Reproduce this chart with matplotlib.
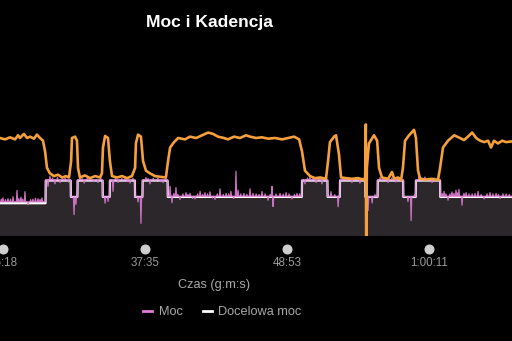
import numpy as np
import matplotlib.pyplot as plt
from matplotlib.lines import Line2D
from matplotlib.transforms import blended_transform_factory

plt.rcParams['font.family'] = ['Liberation Sans', 'DejaVu Sans']

# -------- Data (time in seconds) --------
# target power step function: segment start times and watts
TARGET_START = [1400, 1782, 1902, 1934, 2054, 2088, 2208, 2244, 2364,
                3004, 3126, 3185, 3306, 3365, 3487, 3547, 3663]
TARGET_W = [130, 220, 155, 220, 155, 220, 155, 220, 155,
            220, 155, 220, 155, 220, 155, 220, 155]
# mean actual power per segment
POWER_W = [136, 222, 155, 222, 155, 222, 155, 222, 157,
           222, 156, 222, 156, 222, 156, 222, 157]
# short spikes in actual power (time, deviation in W)
SPIKE_T = [1570, 1578, 1590, 1602, 1614, 1626, 1645, 1654, 1664, 1672, 1683,
           1698, 1710, 1721, 1733, 1745, 1755, 1764,
           1793, 1802, 1814, 1826, 1838, 1850, 1862, 1874, 1890, 1917, 1926,
           1945, 1955, 1965, 1980, 1993, 2010, 2031, 2045,
           2065, 2079, 2103, 2115, 2127, 2145, 2160, 2172, 2184, 2198, 2222,
           2236, 2260, 2270, 2279, 2295, 2317, 2330, 2341, 2355,
           2375, 2384, 2393, 2403, 2412, 2422, 2436, 2451, 2460, 2470, 2482,
           2494, 2506, 2518, 2530, 2541, 2553, 2565, 2577, 2589, 2600, 2613,
           2628, 2642, 2654, 2665, 2678, 2689, 2699, 2712, 2727, 2741, 2756,
           2770, 2785, 2799, 2813, 2828, 2842, 2852, 2861, 2866, 2880, 2899,
           2914, 2928, 2942, 2956, 2968, 2980, 2993,
           3018, 3030, 3042, 3056, 3071, 3085, 3099, 3112, 3142, 3160, 3176,
           3198, 3209, 3225, 3242, 3260, 3280, 3295, 3319, 3338, 3352, 3376,
           3395, 3414, 3432, 3452, 3470, 3509, 3524, 3540,
           3562, 3575, 3590, 3606, 3624, 3636, 3648, 3672, 3681, 3690, 3700,
           3709, 3719, 3728, 3738, 3745, 3752, 3767, 3776, 3786, 3800, 3815,
           3829, 3843, 3858, 3872, 3886, 3900, 3914, 3929, 3940, 3948, 3962,
           3977, 3992]
SPIKE_W = [10, 15, 8, 12, 10, 20, 45, 12, 18, 10, 40,
           -12, 8, 10, 14, 12, 9, 15,
           -25, 15, 8, -15, 10, -10, 6, 8, -8, -70, -30,
           10, 6, -12, 7, 8, -6, -10, 6,
           -25, -18, -45, 8, -10, 6, 8, -6, -12, 7, -20,
           -105, 10, 6, -15, 7, 8, -6, -10, 6,
           40, -25, 12, 35, 8, -12, 10, 15, 8, 12, -8,
           -10, 10, 20, 8, 15, 10, 18, -6, -12, 10, 30,
           8, 12, 10, 20, -8, 100, 25, 10, 12, 8, 30,
           12, 10, 8, 20, 10, -15, 8, 40, -40, 10, 12,
           9, 15, 10, -10, 8, 12, 10,
           -15, 8, 12, 6, -10, 8, -15, 6, 20, 8, -40,
           7, 8, 6, -10, 6, -12, 8, -55, -25, 8, 10,
           6, -10, 8, -8, 6, -20, -95, 8,
           15, 8, 12, 6, -10, 8, 8, 12, 20, 10, -15,
           10, 18, 12, 25, 14, 28, -35, 12, 15, 10, 10,
           12, 20, 8, -10, 10, 15, 10, 12, 8, -8, 10,
           10, 8]

# cadence (rpm)
CAD_T = [1469, 1564, 1588, 1612, 1636, 1650, 1659, 1678, 1693, 1707, 1726,
         1740, 1755, 1769, 1779, 1788, 1802, 1821, 1841, 1860, 1879, 1893,
         1903, 1907, 1922, 1931, 1936, 1945, 1969, 1993, 2017, 2041, 2050,
         2055, 2065, 2079, 2088, 2098, 2122, 2146, 2170, 2193, 2208, 2212,
         2222, 2236, 2246, 2260, 2279, 2303, 2327, 2355, 2365, 2375, 2394,
         2413, 2446, 2470, 2499, 2527, 2556, 2580, 2603, 2632, 2651, 2680,
         2708, 2737, 2756, 2785, 2813, 2842, 2875, 2909, 2937, 2966, 2990,
         3004, 3018, 3042, 3066, 3090, 3118, 3128, 3137, 3157, 3166, 3180,
         3190, 3214, 3242, 3271, 3295, 3305, 3308, 3310, 3313, 3323, 3347,
         3362, 3371, 3385, 3414, 3433, 3443, 3462, 3476, 3485, 3495, 3514,
         3538, 3547, 3557, 3567, 3595, 3624, 3652, 3662, 3676, 3700, 3729,
         3757, 3776, 3795, 3815, 3834, 3853, 3872, 3891, 3905, 3919, 3938,
         3958, 3977, 4005, 4050]
CAD_RPM = [92, 92, 91, 92.5, 91, 94, 92, 95, 92, 93, 91.5,
           94.5, 92, 90, 82, 70, 66, 64, 65, 63, 64, 63,
           75, 92, 93, 90, 70, 63, 64.5, 62.5, 64, 63, 66,
           85, 93.5, 92, 75, 64, 63, 64, 62.5, 64, 70, 88,
           94.5, 93, 75, 68, 66, 64, 63.5, 63, 75, 85, 89,
           92, 91, 93, 92, 94, 96, 95, 93, 92, 91, 93,
           92, 94, 93, 92, 92.5, 91.5, 92, 91, 92, 93, 91,
           82, 68, 64, 62.5, 63, 62, 75, 89, 93, 94, 80,
           63, 62.5, 62, 62.5, 61.5, 62, 102, 5, 70, 88, 94,
           90, 70, 63, 62, 67, 62, 63, 61, 70, 90, 94,
           98, 92, 68, 62, 61.5, 62, 61, 70, 85, 90, 94,
           92, 90.5, 93, 96, 92, 90, 89, 90, 85, 90, 88,
           90, 89, 89.5, 89]

TICK_T = [1578, 2255, 2933, 3611]
TICK_LABELS = ['26:18', '37:35', '48:53', '1:00:11']

# -------- Build power series --------
t = np.arange(1400, 4101, 1.0)
seg = np.searchsorted(TARGET_START, t, side='right') - 1
target = np.array(TARGET_W)[seg]
power = np.array(POWER_W, dtype=float)[seg]
for ts, dw in zip(SPIKE_T, SPIKE_W):
    power += dw * np.clip(1 - np.abs(t - ts) / 3.0, 0, None)

# -------- Plot --------
fig = plt.figure(figsize=(5.12, 3.41), dpi=100, facecolor='black')
ax = fig.add_axes([0, 0.308, 1, 0.399])
ax.set_facecolor('none')
ax.fill_between(t, 0, power, color='#2b272b', lw=0, zorder=1)
ax.plot(t, target, color='white', lw=1.6, zorder=2)
ax.plot(t, power, color='#e07cd6', lw=0.9, alpha=0.9, zorder=3)
ax.set_xlim(1564, 4005)
ax.set_ylim(0, 540)
ax.axis('off')

ax2 = ax.twinx()
ax2.plot(CAD_T, CAD_RPM, color='#f5a03c', lw=1.9, solid_joinstyle='round')
ax2.set_xlim(1564, 4005)
ax2.set_ylim(20, 120)
ax2.axis('off')

# x ticks as dots below plot
tr = blended_transform_factory(ax.transData, ax.transAxes)
ax.plot(TICK_T, [-0.096] * len(TICK_T), 'o', color='#cfcfcf', ms=6.2,
        transform=tr, clip_on=False)
for tt, lab in zip(TICK_T, TICK_LABELS):
    ax.text(tt, -0.199, lab, transform=tr, ha='center', va='center',
            color='#9a9a9a', fontsize=8.4, clip_on=False)

fig.text(0.419, 1 - 285 / 341, 'Czas (g:m:s)', ha='center', va='center',
         color='#a8a8a8', fontsize=9.2)
fig.text(0.409, 1 - 22 / 341, 'Moc i Kadencja', ha='center', va='center',
         color='white', fontsize=12.6, fontweight='bold')

handles = [Line2D([], [], color='#e07cd6', lw=2),
           Line2D([], [], color='white', lw=2)]
fig.legend(handles, ['Moc', 'Docelowa moc'], loc='center',
           bbox_to_anchor=(222.5 / 512, 1 - 312 / 341), ncol=2, frameon=False,
           labelcolor='#a8a8a8', fontsize=9.2, handlelength=0.7,
           handletextpad=0.5, columnspacing=1.6)

fig.savefig('out.png', dpi=100, facecolor='black')
